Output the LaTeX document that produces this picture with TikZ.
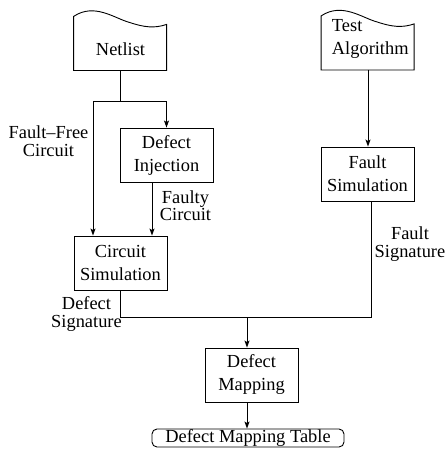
\documentclass[tikz,border=0pt]{standalone}
\usepackage{fontspec}
\setmainfont{Liberation Serif}
\usetikzlibrary{arrows.meta,calc}

% wavy-topped document sheet, drawn from its lower left corner
\newcommand\docsheet[1]{%
  \draw[shift={(#1)}] (0,0) -- (0,-54)
    .. controls (21,-68) and (41,-52) .. (56,-48)
    .. controls (71,-43) and (81,-42) .. (93,-46) -- (93,0) -- cycle;}

\begin{document}
\begin{tikzpicture}[x=1pt,y=-1pt,line width=0.9pt,
  every node/.style={font=\fontsize{18.4}{23}\selectfont},
  procbox/.style={draw, minimum width=93pt, minimum height=54pt, align=center, inner sep=0pt},
  docbody/.style={minimum width=93pt, minimum height=46pt, inner sep=0pt},
  doctext/.style={inner sep=0pt},
  edgelabel/.style={inner sep=0pt, align=center, font=\fontsize{18.4}{17.5}\selectfont},
  flow/.style={-{Stealth[length=7pt,width=5pt,inset=1.5pt]}},
]
\useasboundingbox (0,0) rectangle (446,460);

% input documents
\node[docbody] (netlist) at (120.5,47) {};
\node[doctext] (netlisttext) at (120.5,49) {Netlist};
\docsheet{netlist.south west}

\node[docbody] (alg) at (368,46.5) {};
\node[doctext, align=left, anchor=west] (algtext) at (331.5,39) {Test\\Algorithm};
\docsheet{alg.south west}

% processing steps
\node[procbox] (inj)  at (166.5,155) {Defect\\Injection};
\node[procbox] (csim) at (120.5,263) {Circuit\\Simulation};
\node[procbox] (fsim) at (367.5,174) {Fault\\Simulation};
\node[procbox] (dmap) at (251.5,375) {Defect\\Mapping};
\node[draw, rounded corners=5pt, minimum width=192pt, minimum height=18pt, inner sep=0pt]
  (tbl) at (248,438) {Defect Mapping Table};

% routing points
\coordinate (split) at (120.5,101);
\coordinate (ffx) at (93,101);
\coordinate (fcx) at (152,0);
\coordinate (fsx) at (371,0);
\coordinate (merge) at (247,317);

% connectors
\draw (netlist.south) -- (split);
\draw[flow] (split) -- (ffx) -- (ffx |- csim.north);
\draw[flow] (split) -| (inj.north);
\draw[flow] (inj.south -| fcx) -- (csim.north -| fcx);
\draw[flow] (alg.south) -- (alg.south |- fsim.north);
\draw (csim.south) -- (csim.south |- merge) -- (merge -| fsx) -- (fsim.south -| fsx);
\draw[flow] (merge) -- (merge |- dmap.north);
\draw[flow] (dmap.south -| merge) -- (merge |- tbl.north);

% connector labels
\node[edgelabel] (fflabel) at (48.5,141) {Fault--Free\\Circuit};
\node[edgelabel] (fclabel) at (185.5,205.5) {Faulty\\Circuit};
\node[edgelabel] (dslabel) at (86.5,314) {Defect\\Signature};
\node[edgelabel] (fslabel) at (410,244) {Fault\\Signature};
\end{tikzpicture}
\end{document}
